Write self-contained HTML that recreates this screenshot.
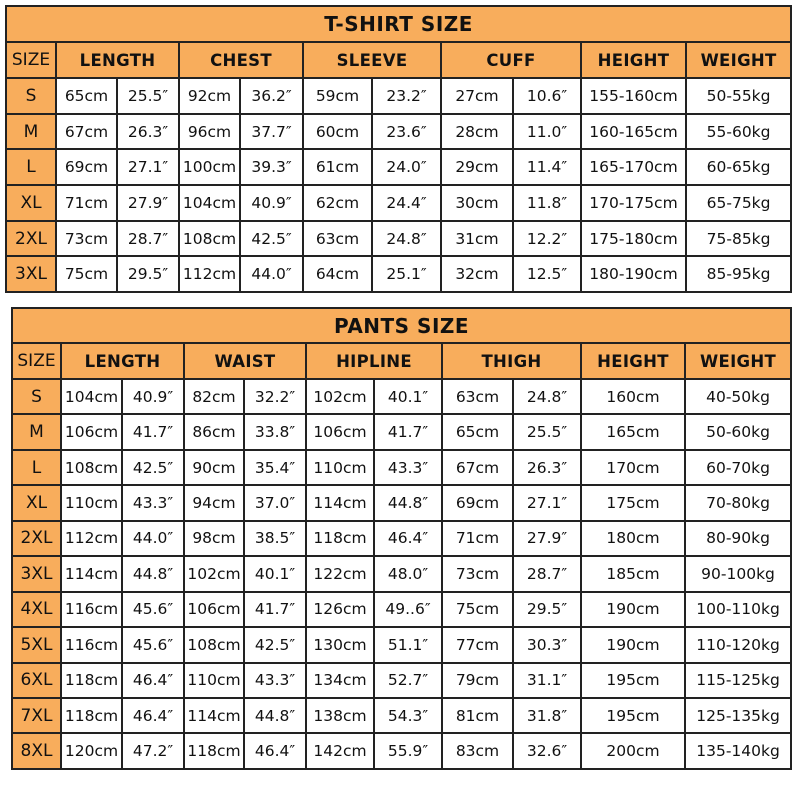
<!DOCTYPE html>
<html><head><meta charset="utf-8"><style>
body{margin:0;background:#fff;width:800px;height:800px;position:relative;overflow:hidden;font-family:"DejaVu Sans","Liberation Sans",sans-serif}
table{position:absolute;border-collapse:collapse;table-layout:fixed}
td{border:2px solid #222;text-align:center;padding:0;font-size:15.5px;color:#111;background:#fff;white-space:nowrap;overflow:hidden}
td.o{background:#f8ad5c}
tr.t td{font-weight:bold;font-size:20px;letter-spacing:.5px}
tr.h td{font-weight:bold;font-size:16.5px;letter-spacing:.3px}
tr.h td.sz{font-weight:normal;font-size:17px;letter-spacing:0}
td.s{background:#f8ad5c;font-size:17px}
#a{left:5px;top:5px;width:785px;height:286px}
#b{left:11px;top:307px;width:779px;height:461px}
#a tr.t td{height:34px}#a tr.h td{height:34px}#a tr.r td{height:33.7px}
#b tr.t td{height:33px}#b tr.h td{height:34px}#b tr.r td{height:33.45px}
</style></head><body>
<table id="a">
<colgroup><col style="width:50px"><col style="width:61px"><col style="width:62px"><col style="width:61px"><col style="width:63px"><col style="width:69px"><col style="width:69px"><col style="width:72px"><col style="width:68px"><col style="width:105px"><col style="width:105px"></colgroup>
<tr class="t"><td class="o" colspan="11">T-SHIRT SIZE</td></tr>
<tr class="h"><td class="o sz">SIZE</td><td class="o" colspan="2">LENGTH</td><td class="o" colspan="2">CHEST</td><td class="o" colspan="2">SLEEVE</td><td class="o" colspan="2">CUFF</td><td class="o">HEIGHT</td><td class="o">WEIGHT</td></tr>
<tr class="r"><td class="s">S</td><td>65cm</td><td>25.5″</td><td>92cm</td><td>36.2″</td><td>59cm</td><td>23.2″</td><td>27cm</td><td>10.6″</td><td>155-160cm</td><td>50-55kg</td></tr>
<tr class="r"><td class="s">M</td><td>67cm</td><td>26.3″</td><td>96cm</td><td>37.7″</td><td>60cm</td><td>23.6″</td><td>28cm</td><td>11.0″</td><td>160-165cm</td><td>55-60kg</td></tr>
<tr class="r"><td class="s">L</td><td>69cm</td><td>27.1″</td><td>100cm</td><td>39.3″</td><td>61cm</td><td>24.0″</td><td>29cm</td><td>11.4″</td><td>165-170cm</td><td>60-65kg</td></tr>
<tr class="r"><td class="s">XL</td><td>71cm</td><td>27.9″</td><td>104cm</td><td>40.9″</td><td>62cm</td><td>24.4″</td><td>30cm</td><td>11.8″</td><td>170-175cm</td><td>65-75kg</td></tr>
<tr class="r"><td class="s">2XL</td><td>73cm</td><td>28.7″</td><td>108cm</td><td>42.5″</td><td>63cm</td><td>24.8″</td><td>31cm</td><td>12.2″</td><td>175-180cm</td><td>75-85kg</td></tr>
<tr class="r"><td class="s">3XL</td><td>75cm</td><td>29.5″</td><td>112cm</td><td>44.0″</td><td>64cm</td><td>25.1″</td><td>32cm</td><td>12.5″</td><td>180-190cm</td><td>85-95kg</td></tr>
</table>
<table id="b">
<colgroup><col style="width:49px"><col style="width:61px"><col style="width:62px"><col style="width:60px"><col style="width:62px"><col style="width:68px"><col style="width:68px"><col style="width:71px"><col style="width:68px"><col style="width:104px"><col style="width:106px"></colgroup>
<tr class="t"><td class="o" colspan="11">PANTS SIZE</td></tr>
<tr class="h"><td class="o sz">SIZE</td><td class="o" colspan="2">LENGTH</td><td class="o" colspan="2">WAIST</td><td class="o" colspan="2">HIPLINE</td><td class="o" colspan="2">THIGH</td><td class="o">HEIGHT</td><td class="o">WEIGHT</td></tr>
<tr class="r"><td class="s">S</td><td>104cm</td><td>40.9″</td><td>82cm</td><td>32.2″</td><td>102cm</td><td>40.1″</td><td>63cm</td><td>24.8″</td><td>160cm</td><td>40-50kg</td></tr>
<tr class="r"><td class="s">M</td><td>106cm</td><td>41.7″</td><td>86cm</td><td>33.8″</td><td>106cm</td><td>41.7″</td><td>65cm</td><td>25.5″</td><td>165cm</td><td>50-60kg</td></tr>
<tr class="r"><td class="s">L</td><td>108cm</td><td>42.5″</td><td>90cm</td><td>35.4″</td><td>110cm</td><td>43.3″</td><td>67cm</td><td>26.3″</td><td>170cm</td><td>60-70kg</td></tr>
<tr class="r"><td class="s">XL</td><td>110cm</td><td>43.3″</td><td>94cm</td><td>37.0″</td><td>114cm</td><td>44.8″</td><td>69cm</td><td>27.1″</td><td>175cm</td><td>70-80kg</td></tr>
<tr class="r"><td class="s">2XL</td><td>112cm</td><td>44.0″</td><td>98cm</td><td>38.5″</td><td>118cm</td><td>46.4″</td><td>71cm</td><td>27.9″</td><td>180cm</td><td>80-90kg</td></tr>
<tr class="r"><td class="s">3XL</td><td>114cm</td><td>44.8″</td><td>102cm</td><td>40.1″</td><td>122cm</td><td>48.0″</td><td>73cm</td><td>28.7″</td><td>185cm</td><td>90-100kg</td></tr>
<tr class="r"><td class="s">4XL</td><td>116cm</td><td>45.6″</td><td>106cm</td><td>41.7″</td><td>126cm</td><td>49..6″</td><td>75cm</td><td>29.5″</td><td>190cm</td><td>100-110kg</td></tr>
<tr class="r"><td class="s">5XL</td><td>116cm</td><td>45.6″</td><td>108cm</td><td>42.5″</td><td>130cm</td><td>51.1″</td><td>77cm</td><td>30.3″</td><td>190cm</td><td>110-120kg</td></tr>
<tr class="r"><td class="s">6XL</td><td>118cm</td><td>46.4″</td><td>110cm</td><td>43.3″</td><td>134cm</td><td>52.7″</td><td>79cm</td><td>31.1″</td><td>195cm</td><td>115-125kg</td></tr>
<tr class="r"><td class="s">7XL</td><td>118cm</td><td>46.4″</td><td>114cm</td><td>44.8″</td><td>138cm</td><td>54.3″</td><td>81cm</td><td>31.8″</td><td>195cm</td><td>125-135kg</td></tr>
<tr class="r"><td class="s">8XL</td><td>120cm</td><td>47.2″</td><td>118cm</td><td>46.4″</td><td>142cm</td><td>55.9″</td><td>83cm</td><td>32.6″</td><td>200cm</td><td>135-140kg</td></tr>
</table>
</body></html>
